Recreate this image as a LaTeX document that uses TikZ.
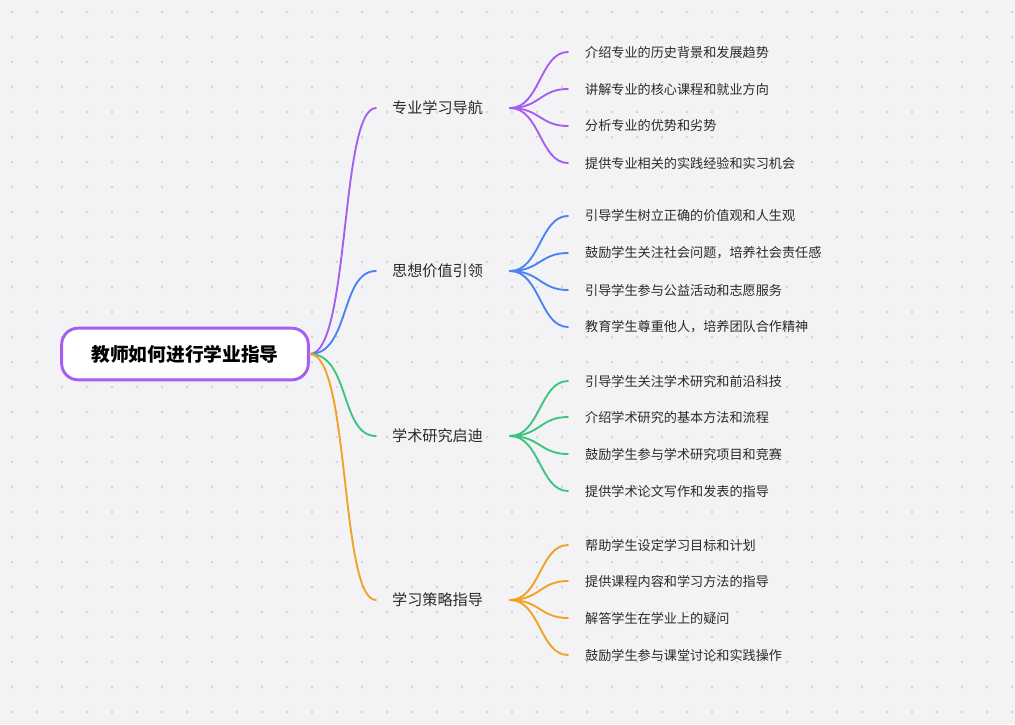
\documentclass[tikz,border=0pt]{standalone}
\usepackage{fontspec}
\setmainfont{Noto Sans CJK SC}
\definecolor{bgc}{HTML}{F3F3F6}
\definecolor{dotc}{HTML}{C8C8CE}
\definecolor{cpurple}{HTML}{A55EF0}
\definecolor{cblue}{HTML}{4A84F2}
\definecolor{cgreen}{HTML}{3DC47E}
\definecolor{corange}{HTML}{F0A323}
\definecolor{txt}{HTML}{2A2A2A}
\tikzset{
  rootbox/.style={draw=cpurple, line width=2.5pt, fill=white, rounded corners=14pt,
    minimum width=7.4cm, minimum height=1.55cm, font=\fontsize{16}{18}\selectfont\bfseries, text=black},
  branch/.style={font=\fontsize{12.9}{14}\selectfont, text=txt, anchor=west, inner sep=0pt},
  leaf/.style={font=\fontsize{11.2}{12}\selectfont, text=txt, anchor=west, inner sep=0pt},
  link/.style={line width=1.6pt, line cap=round}
}
\begin{document}
\begin{tikzpicture}[x=0.03cm, y=-0.03cm]
  \fill[bgc] (0,0) rectangle (1015,724);
  \useasboundingbox (0,0) rectangle (1015,724);
  % dotted background
  \foreach \i in {0,...,40} \foreach \j in {0,...,28}
    \fill[dotc] (12+25*\i, 12+25*\j) circle (0.9pt);

  \node[rootbox] (root) at (185,354) {教师如何进行学业指导};

  % branches
  \foreach \n/\y/\c/\t in {b1/108/cpurple/专业学习导航, b2/271/cblue/思想价值引领,
      b3/436/cgreen/学术研究启迪, b4/600/corange/学习策略指导} {
    \node[branch] (\n) at (392,\y) {\t};
    \coordinate (\n in) at (376,\y);
    \coordinate (\n out) at (510,\y);
    \draw[link, \c] (root.east) .. controls (350,354) and (340,\y) .. (\n in);
  }

  % leaves
  \foreach \n/\y/\c/\b/\t in {
      l11/52/cpurple/b1/介绍专业的历史背景和发展趋势,
      l12/89/cpurple/b1/讲解专业的核心课程和就业方向,
      l13/126/cpurple/b1/分析专业的优势和劣势,
      l14/163/cpurple/b1/提供专业相关的实践经验和实习机会,
      l21/216/cblue/b2/引导学生树立正确的价值观和人生观,
      l22/253/cblue/b2/{鼓励学生关注社会问题，培养社会责任感},
      l23/290/cblue/b2/引导学生参与公益活动和志愿服务,
      l24/327/cblue/b2/{教育学生尊重他人，培养团队合作精神},
      l31/381/cgreen/b3/引导学生关注学术研究和前沿科技,
      l32/417/cgreen/b3/介绍学术研究的基本方法和流程,
      l33/454/cgreen/b3/鼓励学生参与学术研究项目和竞赛,
      l34/491/cgreen/b3/提供学术论文写作和发表的指导,
      l41/545/corange/b4/帮助学生设定学习目标和计划,
      l42/581/corange/b4/提供课程内容和学习方法的指导,
      l43/618/corange/b4/解答学生在学业上的疑问,
      l44/655/corange/b4/鼓励学生参与课堂讨论和实践操作} {
    \node[leaf] (\n) at (585,\y) {\t};
    \draw[link, \c] (\b out) .. controls +(30,0) and (540,\y) .. (568,\y);
  }
\end{tikzpicture}
\end{document}
